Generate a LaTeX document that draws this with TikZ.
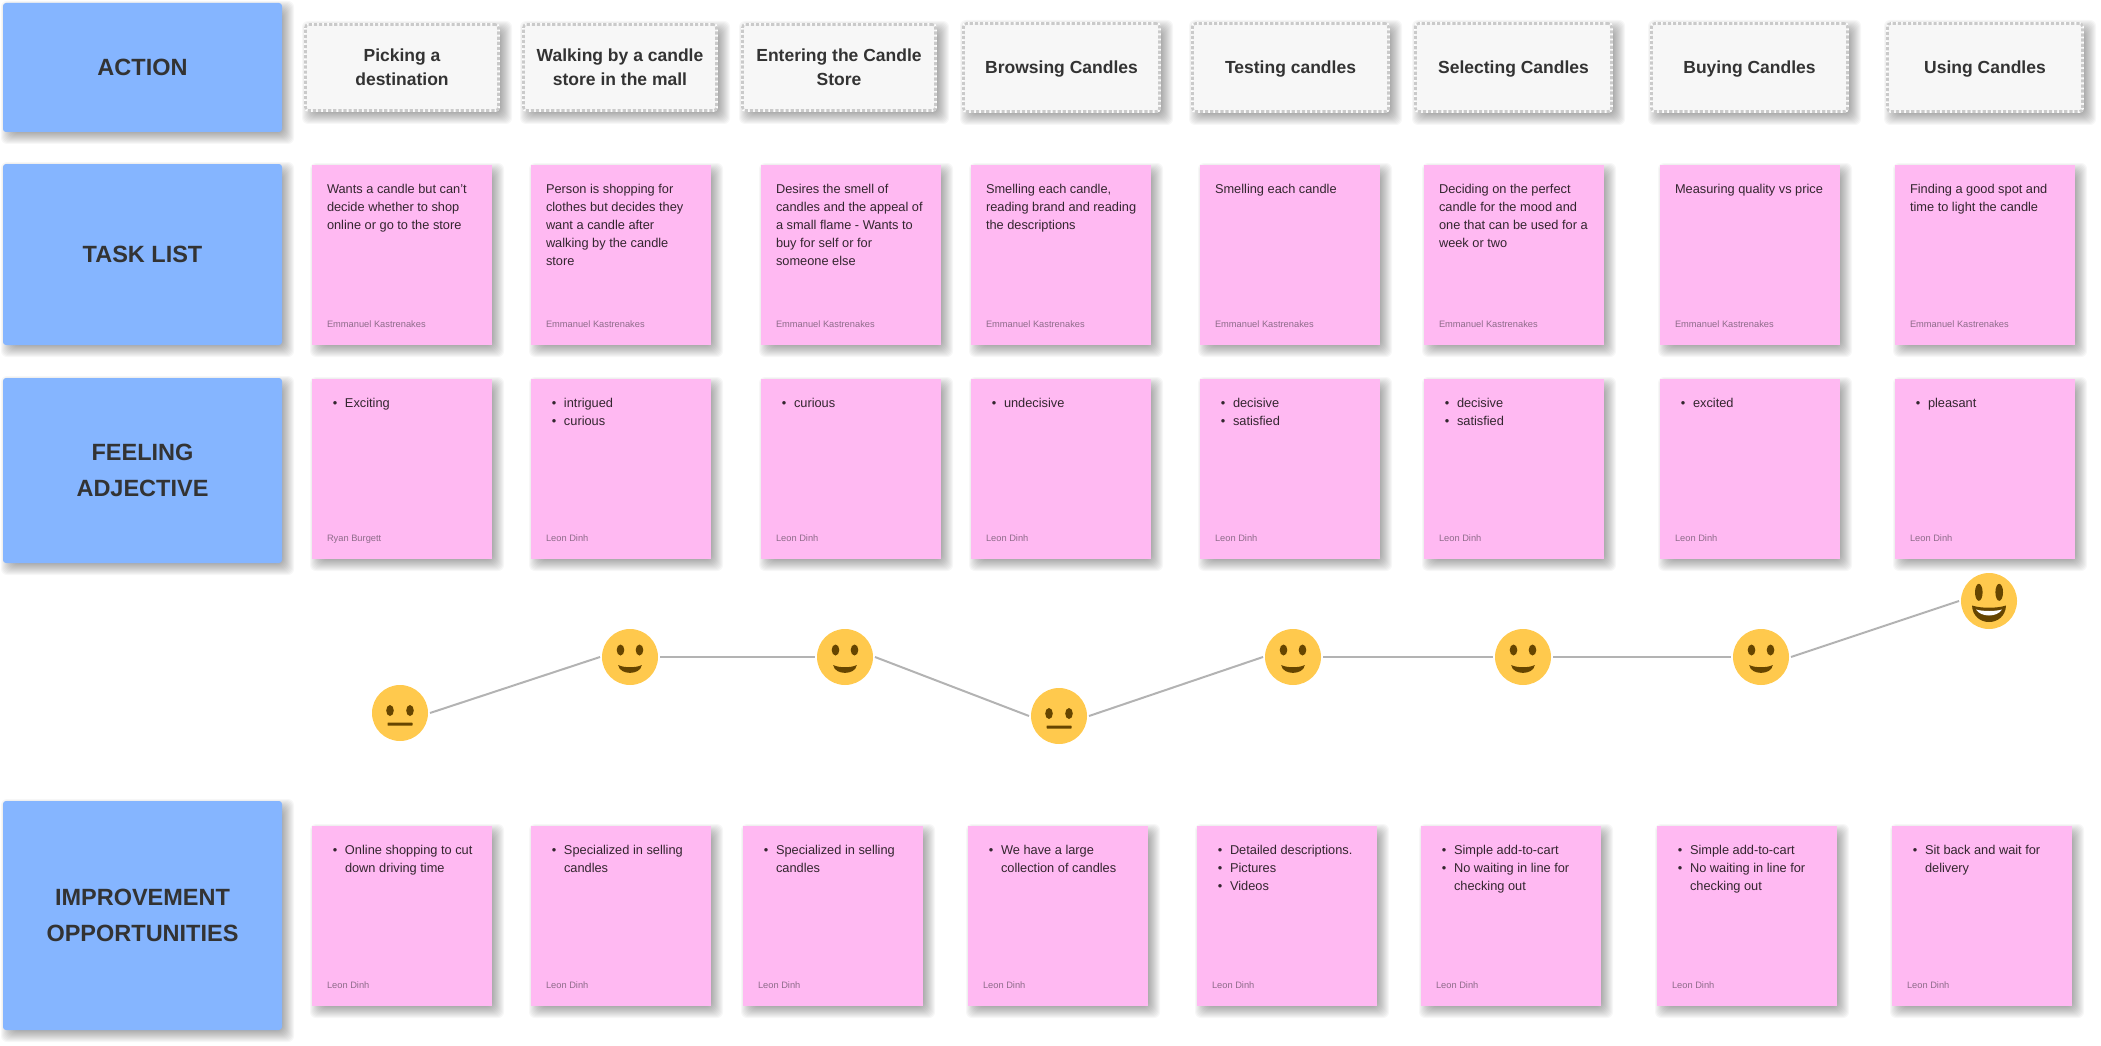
\documentclass[tikz,border=0pt]{standalone}
\usepackage{fontspec}
\setmainfont{Liberation Sans}
\definecolor{rowblue}{HTML}{85B5FF}
\definecolor{notepink}{HTML}{FFB9F2}
\definecolor{actionbg}{HTML}{F7F7F7}
\definecolor{dashgray}{HTML}{CACACA}
\definecolor{ink}{HTML}{333333}
\definecolor{bodyink}{HTML}{33262F}
\definecolor{authorink}{HTML}{8E6C8A}
\definecolor{face}{HTML}{FFC94D}
\definecolor{facedark}{HTML}{664500}
\definecolor{linkgray}{HTML}{B3B3B3}
\tikzset{
  rowbox/.style={anchor=north west,fill=rowblue,rounded corners=3pt,inner sep=0pt,outer sep=0pt,
    text=ink,align=center,font=\fontsize{23.5}{36}\selectfont\bfseries},
  actionbox/.style={anchor=center,fill=actionbg,preaction={draw=white,solid},draw=dashgray,line width=2.6pt,
    dash pattern=on 3.2pt off 1.9pt,rounded corners=3pt,inner sep=0pt,outer sep=0pt,
    text=ink,align=center,font=\fontsize{17.5}{24}\selectfont\bfseries},
  notecard/.style={anchor=north west,fill=notepink,inner sep=0pt,outer sep=0pt,
    minimum width=180pt,minimum height=180pt},
  notebody/.style={anchor=north west,inner sep=0pt,outer sep=0pt,align=left,text=bodyink,
    font=\fontsize{12.8}{18}\selectfont},
  noteauthor/.style={anchor=base west,inner sep=0pt,outer sep=0pt,text=authorink,
    font=\fontsize{9.3}{12}\selectfont},
  facenode/.style={circle,fill=face,minimum size=56pt,inner sep=0pt,outer sep=2pt},
  link/.style={draw=linkgray,line width=2pt},
}
% soft drop shadow for the box x0,y0 to x1,y1
\newcommand\softshadow[4]{%
  \foreach \e in {7,6,...,-6}{%
    \fill[black,opacity=.032,rounded corners=6pt]
      ({#1+5-\e},{#2+5-\e}) rectangle ({#3+5+\e},{#4+5+\e});
  }}
\newcommand\rowlabel[6]{% name x0 y0 x1 y1 text
  \softshadow{#2}{#3}{#4}{#5}
  \node[rowbox,minimum width={(#4-#2)*1pt},minimum height={(#5-#3)*1pt}] (#1) at (#2,#3) {#6};}
\newcommand\actioncard[6]{% name x0 y0 x1 y1 text
  \softshadow{#2}{#3}{#4}{#5}
  \node[actionbox,minimum width={(#4-#2-3)*1pt},minimum height={(#5-#3-3)*1pt}] (#1) at ({(#2+#4)/2},{(#3+#5)/2}) {#6};}
\newcommand\sticky[6]{% name x y textoffset body author
  \softshadow{#2}{#3}{#2+180}{#3+180}
  \node[notecard] (#1) at (#2,#3) {};
  \node[notebody] (#1t) at ({#2+#4},{#3+19.5}) {#5};
  \node[noteauthor] (#1a) at ({#2+15},{#3+162}) {#6};}
\newcommand\bul{\llap{•\hspace{7.7pt}}}
\newcommand\nodepth[1]{\raisebox{0pt}[\height][0pt]{#1}}
\newcommand\lowered[1]{\raisebox{-1pt}{#1}}
\newcommand\eyes[3]{% dx dy ry
  \fill[facedark] (-#1,#2) ellipse [x radius=3.8pt,y radius=#3 pt];
  \fill[facedark] (#1,#2) ellipse [x radius=3.8pt,y radius=#3 pt];}
\newcommand\neutralface[1]{\begin{scope}[shift={(#1.center)}]
  \eyes{10}{-2.5}{5.5}
  \fill[facedark,rounded corners=.6pt] (-12.5,9.6) rectangle (12.5,12.6);
\end{scope}}
\newcommand\smileface[1]{\begin{scope}[shift={(#1.center)}]
  \eyes{9.5}{-7}{5.5}
  \fill[facedark] (-11.8,8) .. controls (-6,11) and (6,11) .. (11.8,8)
     .. controls (10.5,18.5) and (-10.5,18.5) .. cycle;
\end{scope}}
\newcommand\grinface[1]{\begin{scope}[shift={(#1.center)}]
  \eyes{10.2}{-8.7}{8.5}
  \fill[facedark] (-17,4.5) .. controls (-8,7.5) and (8,7.5) .. (17,4.5)
     .. controls (16,26.5) and (-16,26.5) .. cycle;
  \fill[white] (-13,8.5) .. controls (-6,10.5) and (6,10.5) .. (13,8.5)
     .. controls (8,16.5) and (-8,16.5) .. cycle;
\end{scope}}
\begin{document}
\begin{tikzpicture}[x=1pt,y=-1pt]
\useasboundingbox (0,0) rectangle (2101,1046);
\rowlabel{rowAction}{3}{3}{282}{132}{\lowered{ACTION}}
\rowlabel{rowTask}{3}{164}{282}{345}{\lowered{TASK LIST}}
\rowlabel{rowFeel}{3}{378}{282}{563}{FEELING\\ADJECTIVE}
\rowlabel{rowImprove}{3}{801}{282}{1030}{\lowered{IMPROVEMENT}\\\lowered{OPPORTUNITIES}}

\actioncard{a1}{304}{23}{500}{112}{Picking a\\destination}
\actioncard{a2}{522}{23}{718}{112}{Walking by a candle\\store in the mall}
\actioncard{a3}{741}{23}{937}{112}{Entering the Candle\\Store}
\actioncard{a4}{962}{22}{1161}{113}{\nodepth{Browsing Candles}}
\actioncard{a5}{1191}{22}{1390}{113}{\nodepth{Testing candles}}
\actioncard{a6}{1414}{22}{1613}{113}{\nodepth{Selecting Candles}}
\actioncard{a7}{1650}{22}{1849}{113}{\nodepth{Buying Candles}}
\actioncard{a8}{1886}{22}{2084}{113}{\nodepth{Using Candles}}

\sticky{t1}{312}{165}{15}{Wants a candle but can't\\decide whether to shop\\online or go to the store}{Emmanuel Kastrenakes}
\sticky{t2}{531}{165}{15}{Person is shopping for\\clothes but decides they\\want a candle after\\walking by the candle\\store}{Emmanuel Kastrenakes}
\sticky{t3}{761}{165}{15}{Desires the smell of\\candles and the appeal of\\a small flame - Wants to\\buy for self or for\\someone else}{Emmanuel Kastrenakes}
\sticky{t4}{971}{165}{15}{Smelling each candle,\\reading brand and reading\\the descriptions}{Emmanuel Kastrenakes}
\sticky{t5}{1200}{165}{15}{Smelling each candle}{Emmanuel Kastrenakes}
\sticky{t6}{1424}{165}{15}{Deciding on the perfect\\candle for the mood and\\one that can be used for a\\week or two}{Emmanuel Kastrenakes}
\sticky{t7}{1660}{165}{15}{Measuring quality vs price}{Emmanuel Kastrenakes}
\sticky{t8}{1895}{165}{15}{Finding a good spot and\\time to light the candle}{Emmanuel Kastrenakes}

\sticky{f1}{312}{379}{33}{\bul Exciting}{Ryan Burgett}
\sticky{f2}{531}{379}{33}{\bul intrigued\\\bul curious}{Leon Dinh}
\sticky{f3}{761}{379}{33}{\bul curious}{Leon Dinh}
\sticky{f4}{971}{379}{33}{\bul undecisive}{Leon Dinh}
\sticky{f5}{1200}{379}{33}{\bul decisive\\\bul satisfied}{Leon Dinh}
\sticky{f6}{1424}{379}{33}{\bul decisive\\\bul satisfied}{Leon Dinh}
\sticky{f7}{1660}{379}{33}{\bul excited}{Leon Dinh}
\sticky{f8}{1895}{379}{33}{\bul pleasant}{Leon Dinh}

\sticky{i1}{312}{826}{33}{\bul Online shopping to cut\\down driving time}{Leon Dinh}
\sticky{i2}{531}{826}{33}{\bul Specialized in selling\\candles}{Leon Dinh}
\sticky{i3}{743}{826}{33}{\bul Specialized in selling\\candles}{Leon Dinh}
\sticky{i4}{968}{826}{33}{\bul We have a large\\collection of candles}{Leon Dinh}
\sticky{i5}{1197}{826}{33}{\bul Detailed descriptions.\\\bul Pictures\\\bul Videos}{Leon Dinh}
\sticky{i6}{1421}{826}{33}{\bul Simple add-to-cart\\\bul No waiting in line for\\checking out}{Leon Dinh}
\sticky{i7}{1657}{826}{33}{\bul Simple add-to-cart\\\bul No waiting in line for\\checking out}{Leon Dinh}
\sticky{i8}{1892}{826}{33}{\bul Sit back and wait for\\delivery}{Leon Dinh}

\node[facenode] (s1) at (400,713) {};
\node[facenode] (s2) at (630,657) {};
\node[facenode] (s3) at (845,657) {};
\node[facenode] (s4) at (1059,716) {};
\node[facenode] (s5) at (1293,657) {};
\node[facenode] (s6) at (1523,657) {};
\node[facenode] (s7) at (1761,657) {};
\node[facenode] (s8) at (1989,601) {};
\neutralface{s1}\smileface{s2}\smileface{s3}\neutralface{s4}
\smileface{s5}\smileface{s6}\smileface{s7}\grinface{s8}
\draw[link] (s1.east) -- (s2.west);
\draw[link] (s2.east) -- (s3.west);
\draw[link] (s3.east) -- (s4.west);
\draw[link] (s4.east) -- (s5.west);
\draw[link] (s5.east) -- (s6.west);
\draw[link] (s6.east) -- (s7.west);
\draw[link] (s7.east) -- (s8.west);
\end{tikzpicture}
\end{document}
